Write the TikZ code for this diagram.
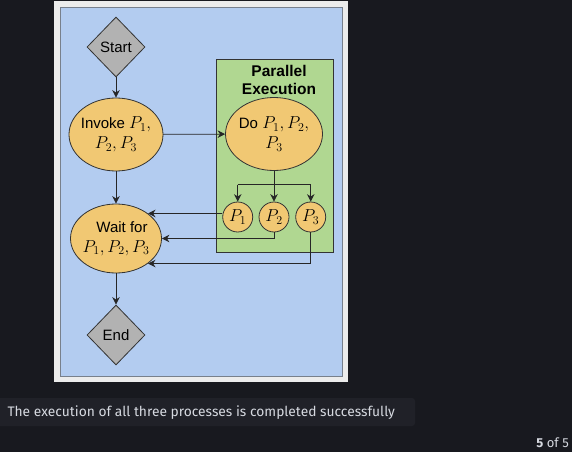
\documentclass[tikz,border=0pt]{standalone}
\usepackage{fontspec}
\usepackage{amsmath}
\usetikzlibrary{shapes.geometric, arrows.meta, calc}
\newfontfamily\diagfont{Liberation Sans}
\newfontfamily\uifont{Fira Sans}
\newcommand{\mth}[1]{{\fontsize{17}{20}\selectfont$#1$}}
\definecolor{pagebg}{RGB}{24,25,31}
\definecolor{capbox}{RGB}{32,33,40}
\definecolor{captext}{RGB}{214,217,224}
\definecolor{framegray}{RGB}{236,236,236}
\definecolor{panelblue}{RGB}{179,204,240}
\definecolor{panelline}{RGB}{120,128,140}
\definecolor{groupgreen}{RGB}{176,215,145}
\definecolor{taskyellow}{RGB}{241,200,115}
\definecolor{decgray}{RGB}{178,178,178}

\begin{document}
\begin{tikzpicture}[x=1pt, y=-1pt,
    box/.style={draw=black!80, line width=0.8pt, inner sep=0pt,
        font=\diagfont\fontsize{15}{20}\selectfont},
    decision/.style={box, diamond, fill=decgray, minimum width=58pt, minimum height=60pt},
    task/.style={box, ellipse, fill=taskyellow, align=center, inner xsep=-5pt},
    proc/.style={box, circle, fill=taskyellow, minimum size=30pt},
    arr/.style={-{Stealth[length=7.5pt, width=7.5pt]}, line width=0.8pt, draw=black!85}]
    \useasboundingbox (0,0) rectangle (572,452);
    \fill[pagebg] (0,0) rectangle (572,452);
    \fill[framegray] (53.5,1.5) rectangle (348,381.5);
    \draw[panelline, fill=panelblue] (60,7) rectangle (342,376);
    \draw[draw=black!80, line width=0.8pt, fill=groupgreen] (216,59) rectangle (333,252);
    \node[align=center, font=\diagfont\bfseries\fontsize{15.5}{18}\selectfont] (partitle) at (279,80) {Parallel\\Execution};

    \node[decision] (start) at (116,47) {Start};
    \node[task, minimum width=94pt, minimum height=73pt] (invoke) at (116,134.5) {Invoke \mth{P_1,}\\\mth{P_2, P_3}};
    \node[task, minimum width=97pt, minimum height=73pt] (doall) at (274,134) {Do \mth{P_1, P_2,}\\\mth{P_3}};
    \node[task, minimum width=91pt, minimum height=69pt] (wait) at (116,238.5) {\hspace*{12pt}Wait for\\\mth{P_1, P_2, P_3}};
    \node[decision] (stop) at (116,335) {End};
    \foreach \i/\x in {1/237.7, 2/274, 3/310.7}
        \node[proc] (p\i) at (\x,217) {\mth{P_\i}};
    \coordinate (fork) at (274,184.5);

    \draw[arr] (start) -- (invoke);
    \draw[arr] (invoke) -- (doall);
    \draw[arr] (invoke) -- (wait);
    \draw[arr] (wait) -- (stop);
    \draw[line width=0.8pt, black!85] (doall) -- (fork);
    \draw[line width=0.8pt, black!85] (fork -| p1) -- (fork -| p3);
    \foreach \p in {p1,p2,p3}
        \draw[arr] (fork -| \p) -- (\p);
    \draw[arr] (wait.38 -| p1.west) -- (wait.38);
    \draw[arr] (p2.south) |- (wait.east);
    \draw[arr] (p3.south) |- (wait.-38);

    \fill[capbox, rounded corners=3pt] (-6,398) rectangle (415,426);
    \node[anchor=base west, inner sep=0pt, text=captext, font=\uifont\fontsize{13.8}{16}\selectfont] (caption) at (7.3,416.7) {The execution of all three processes is completed successfully};
    \node[anchor=base east, inner sep=0pt, text=captext, font=\uifont\fontsize{13}{15}\selectfont] (pager) at (569,447) {\textbf{5} of 5};
\end{tikzpicture}
\end{document}
